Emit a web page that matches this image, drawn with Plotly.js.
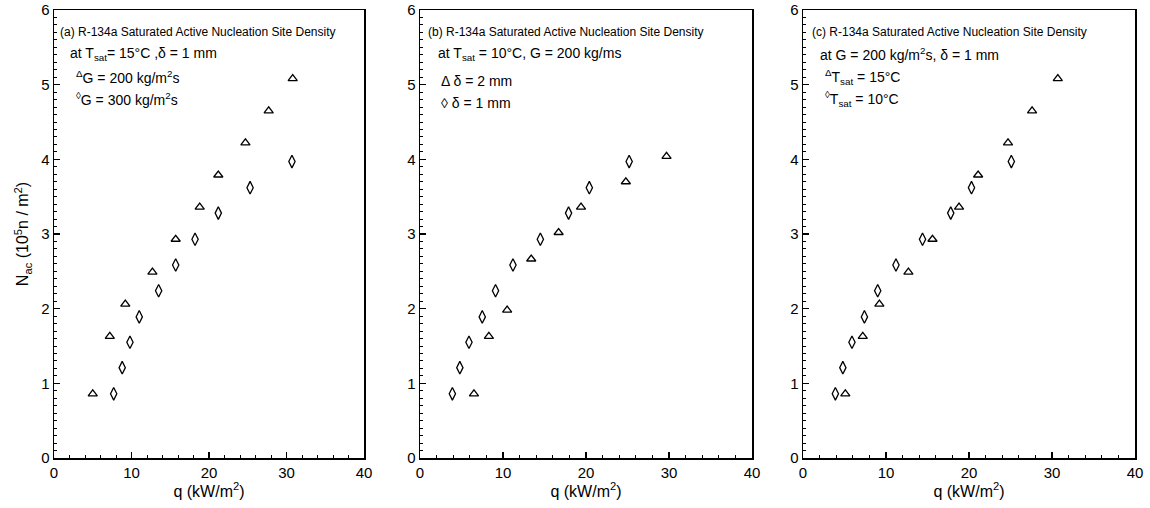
<!DOCTYPE html>
<html>
<head>
<meta charset="utf-8">
<script src="https://cdn.plot.ly/plotly-3.0.1.min.js"></script>
<style>html,body{margin:0;padding:0;background:#fff;}#chart{width:1150px;height:508px;}</style>
</head>
<body>
<div id="chart"></div>
<script>
// Panel (a): Tsat = 15°C, δ = 1 mm
const aG200_q = [5.0, 7.2, 9.2, 12.7, 15.7, 18.8, 21.2, 24.7, 27.7, 30.8];
const aG200_N = [0.86, 1.63, 2.06, 2.49, 2.93, 3.36, 3.79, 4.22, 4.65, 5.08];
const aG300_q = [7.7, 8.8, 9.8, 11.0, 13.5, 15.7, 18.2, 21.2, 25.3, 30.7];
const aG300_N = [0.86, 1.21, 1.55, 1.89, 2.24, 2.585, 2.93, 3.28, 3.62, 3.97];
// Panel (b): Tsat = 10°C, G = 200
const bD2_q = [6.5, 8.3, 10.5, 13.4, 16.7, 19.4, 24.8, 29.7];
const bD2_N = [0.86, 1.63, 1.98, 2.665, 3.02, 3.36, 3.70, 4.04];
const bD1_q = [3.9, 4.8, 5.9, 7.5, 9.1, 11.2, 14.5, 17.9, 20.4, 25.2];
const bD1_N = [0.86, 1.21, 1.55, 1.89, 2.24, 2.585, 2.93, 3.28, 3.62, 3.97];
// Panel (c): G = 200, δ = 1 mm
const cT15_q = [5.1, 7.2, 9.2, 12.7, 15.6, 18.8, 21.1, 24.7, 27.6, 30.7];
const cT15_N = [0.86, 1.63, 2.06, 2.49, 2.93, 3.36, 3.79, 4.22, 4.65, 5.08];
const cT10_q = [3.9, 4.8, 5.9, 7.4, 9.0, 11.2, 14.4, 17.8, 20.3, 25.1];
const cT10_N = [0.86, 1.21, 1.55, 1.89, 2.24, 2.585, 2.93, 3.28, 3.62, 3.97];

const titleA = "(a) R-134a Saturated Active Nucleation Site Density";
const titleB = "(b) R-134a Saturated Active Nucleation Site Density";
const titleC = "(c) R-134a Saturated Active Nucleation Site Density";

const W = 1150, H = 508, TOP = 10, BOT = 458;
const px = x => x / W;
const py = y => (BOT - y) / (BOT - TOP);

const FONT = "Liberation Sans, Arial, Helvetica, sans-serif";
const tri = {symbol: 'triangle-up-open', size: 8, color: '#000', line: {color: '#000', width: 1.3}};
const dia = {symbol: 'diamond-tall-open', size: 9, color: '#000', line: {color: '#000', width: 1.3}};

function tr(x, y, m, xa, ya) {
  return {x: x, y: y, type: 'scatter', mode: 'markers', marker: m, xaxis: xa, yaxis: ya, showlegend: false, hoverinfo: 'x+y'};
}
const data = [
  tr(aG200_q, aG200_N, tri, 'x', 'y'),
  tr(aG300_q, aG300_N, dia, 'x', 'y'),
  tr(bD2_q, bD2_N, tri, 'x2', 'y2'),
  tr(bD1_q, bD1_N, dia, 'x2', 'y2'),
  tr(cT15_q, cT15_N, tri, 'x3', 'y3'),
  tr(cT10_q, cT10_N, dia, 'x3', 'y3')
];

const tickCommonX = {
  range: [0, 40], dtick: 10, tick0: 0,
  ticks: 'inside', ticklen: 6, tickwidth: 1.2, tickcolor: '#000',
  minor: {dtick: 2, ticks: 'inside', ticklen: 3, tickwidth: 1, tickcolor: '#000'},
  showgrid: false, zeroline: false
};
const tickCommonY = {
  range: [0, 6], dtick: 1, tick0: 0,
  ticks: 'inside', ticklen: 6, tickwidth: 1.2, tickcolor: '#000',
  minor: {dtick: 0.1, ticks: 'inside', ticklen: 3, tickwidth: 1, tickcolor: '#000'},
  showgrid: false, zeroline: false
};

function xax(dom, anchor) {
  return Object.assign({}, tickCommonX, {
    domain: dom, anchor: anchor,
    showline: true, linecolor: '#000', linewidth: 1.5, mirror: true,
    tickfont: {family: FONT, size: 15, color: '#000'},
    title: {text: 'q (kW/m<sup>2</sup>)', font: {family: FONT, size: 16, color: '#000'}, standoff: 4}
  });
}
function xaxTop(over, anchor) {
  return Object.assign({}, tickCommonX, {
    overlaying: over, anchor: anchor, side: 'top', showline: false, showticklabels: false
  });
}
function yax(anchor, withTitle) {
  const a = Object.assign({}, tickCommonY, {
    domain: [0, 1], anchor: anchor,
    showline: true, linecolor: '#000', linewidth: 1.5, mirror: true,
    tickfont: {family: FONT, size: 15, color: '#000'}
  });
  if (withTitle) a.title = {text: 'N<sub>ac</sub> (10<sup>5</sup>n / m<sup>2</sup>)', font: {family: FONT, size: 16, color: '#000'}, standoff: 8};
  return a;
}
function yaxRight(over, anchor) {
  return Object.assign({}, tickCommonY, {
    overlaying: over, anchor: anchor, side: 'right', showline: false, showticklabels: false
  });
}

function ann(text, x, y, size) {
  return {text: text, xref: 'paper', yref: 'paper', x: px(x), y: py(y), xanchor: 'left', yanchor: 'middle',
          showarrow: false, font: {family: FONT, size: size, color: '#000'}};
}
const annotations = [
  ann(titleA, 58, 32, 12),
  ann('at T<sub>sat</sub>= 15°C ,δ = 1 mm', 68, 54, 14),
  ann('<sup>Δ</sup>G = 200 kg/m<sup>2</sup>s', 74, 77, 14),
  ann('<sup>◊</sup>G = 300 kg/m<sup>2</sup>s', 74, 99, 14),
  ann(titleB, 426, 32, 12),
  ann('at T<sub>sat</sub> = 10°C, G = 200 kg/ms', 436, 54, 14),
  ann('Δ δ = 2 mm', 439, 81, 14),
  ann('◊ δ = 1 mm', 439, 103, 14),
  ann(titleC, 810, 32, 12),
  ann('at G = 200 kg/m<sup>2</sup>s, δ = 1 mm', 818, 54, 14),
  ann('<sup>Δ</sup>T<sub>sat</sub> = 15°C', 823, 77, 14),
  ann('<sup>◊</sup>T<sub>sat</sub> = 10°C', 823, 99, 14)
];

const layout = {
  width: W, height: H,
  margin: {l: 0, r: 0, t: TOP, b: H - BOT, pad: 0},
  paper_bgcolor: '#fff', plot_bgcolor: '#fff',
  font: {family: FONT, color: '#000'},
  showlegend: false,
  xaxis: xax([px(54), px(364)], 'y'),
  yaxis: yax('x', true),
  xaxis2: xax([px(420), px(752)], 'y2'),
  yaxis2: yax('x2', false),
  xaxis3: xax([px(803), px(1135)], 'y3'),
  yaxis3: yax('x3', false),
  xaxis4: xaxTop('x', 'y'),
  xaxis5: xaxTop('x2', 'y2'),
  xaxis6: xaxTop('x3', 'y3'),
  yaxis4: yaxRight('y', 'x'),
  yaxis5: yaxRight('y2', 'x2'),
  yaxis6: yaxRight('y3', 'x3'),
  annotations: annotations
};

Plotly.newPlot('chart', data, layout, {displayModeBar: false, staticPlot: true});
</script>
</body>
</html>
